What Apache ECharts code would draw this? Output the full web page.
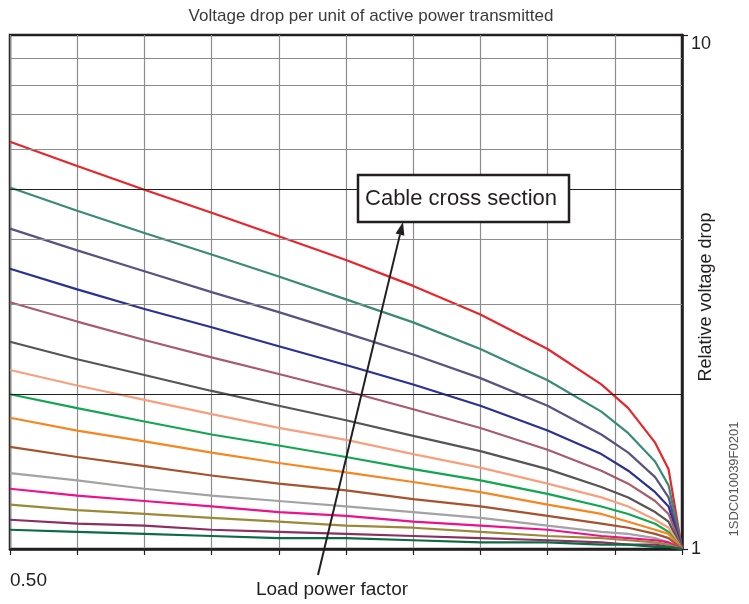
<!DOCTYPE html>
<html>
<head>
<meta charset="utf-8">
<script src="https://cdn.jsdelivr.net/npm/echarts@6/dist/echarts.min.js"></script>
<style>
html,body{margin:0;padding:0;background:#fff;}
#c{width:749px;height:604px;}
</style>
</head>
<body>
<div id="c"></div>
<script>
// Load power factor (x positions of the polyline vertices)
const powerFactor = [0.50,0.55,0.60,0.65,0.70,0.75,0.80,0.85,0.90,0.94,0.96,0.98,0.99,1.00];

// Relative voltage drop for each cable cross section curve (top to bottom)
const sRed      = [6.20,5.56,5.00,4.51,4.06,3.65,3.25,2.86,2.45,2.09,1.88,1.61,1.43,1];
const sTeal     = [5.05,4.55,4.12,3.74,3.39,3.06,2.76,2.45,2.13,1.85,1.68,1.48,1.33,1];
const sPurple   = [4.20,3.81,3.47,3.16,2.89,2.63,2.39,2.15,1.90,1.67,1.54,1.38,1.26,1];
const sBlue     = [3.51,3.20,2.93,2.70,2.48,2.28,2.09,1.90,1.70,1.53,1.42,1.29,1.21,1];
const sMauve    = [3.02,2.77,2.55,2.36,2.19,2.03,1.87,1.72,1.56,1.42,1.34,1.24,1.17,1];
const sDarkGray = [2.53,2.34,2.18,2.03,1.90,1.78,1.66,1.55,1.43,1.32,1.26,1.18,1.13,1];
const sSalmon   = [2.23,2.08,1.95,1.83,1.72,1.63,1.53,1.44,1.34,1.26,1.21,1.14,1.10,1];
const sGreen    = [2.00,1.88,1.77,1.67,1.59,1.51,1.43,1.36,1.28,1.21,1.17,1.12,1.08,1];
const sOrange   = [1.80,1.70,1.62,1.54,1.47,1.41,1.35,1.29,1.22,1.17,1.13,1.09,1.07,1];
const sBrown    = [1.58,1.51,1.45,1.39,1.34,1.30,1.25,1.21,1.16,1.12,1.10,1.07,1.05,1];
const sGray     = [1.405,1.36,1.31,1.27,1.24,1.21,1.18,1.15,1.11,1.08,1.07,1.05,1.03,1];
const sPink     = [1.31,1.27,1.24,1.21,1.18,1.16,1.13,1.11,1.09,1.06,1.05,1.04,1.03,1];
const sOlive    = [1.22,1.19,1.17,1.15,1.13,1.11,1.10,1.08,1.06,1.05,1.04,1.03,1.02,1];
const sPlum     = [1.14,1.12,1.11,1.09,1.08,1.07,1.06,1.05,1.04,1.03,1.02,1.02,1.01,1];
const sDkGreen  = [1.09,1.08,1.07,1.06,1.05,1.05,1.04,1.03,1.03,1.02,1.02,1.01,1.01,1];

const curves = [sRed,sTeal,sPurple,sBlue,sMauve,sDarkGray,sSalmon,sGreen,sOrange,sBrown,sGray,sPink,sOlive,sPlum,sDkGreen];
const curveColors = ['#e8252a','#3a8a78','#5b5282','#2b3192','#a85a6e','#555555','#f5a07e','#12a650','#f6861f','#a5532e','#a3a3a3','#ec118c','#9b8938','#8a2f60','#0b6b45'];

// Horizontal grid lines of the log axis
const gridMinor = [3,4,6,7,8,9];
const gridMajor = [2,5];

// Axis range / ticks
const xMin = 0.5, xMax = 1.0, xStep = 0.05;
const yMin = 1, yMax = 10;

const ink = '#231f20';
const FONT = 'Liberation Sans, Arial, Helvetica, sans-serif';

const series = [];
series.push({
  type:'line', data:[], silent:true, z:1,
  markLine:{
    silent:true, symbol:'none', animation:false,
    label:{show:false},
    data: gridMinor.map(v=>({yAxis:v, lineStyle:{color:'#8c8c8c',width:1.2,type:'solid'}}))
      .concat(gridMajor.map(v=>({yAxis:v, lineStyle:{color:ink,width:1.2,type:'solid'}})))
  }
});
curves.forEach((c,i)=>{
  series.push({
    type:'line', z:3,
    showSymbol:false, symbol:'none', animation:false,
    lineStyle:{color:curveColors[i], width:2.2},
    data: powerFactor.map((x,j)=>[x,c[j]])
  });
});

// arrow geometry (annotation)
const tip=[403,222], tail=[318,575];
const dx=tip[0]-tail[0], dy=tip[1]-tail[1], L=Math.hypot(dx,dy);
const ux=dx/L, uy=dy/L, hl=13, hw=4.5;
const bx=tip[0]-ux*hl, by=tip[1]-uy*hl;

const chart = echarts.init(document.getElementById('c'), null, {renderer:'canvas'});
chart.setOption({
  backgroundColor:'#fff',
  animation:false,
  title:{
    text:'Voltage drop per unit of active power transmitted',
    left:366, top:3, textAlign:'center',
    textStyle:{fontFamily:FONT,fontSize:17,fontWeight:'normal',color:'#3a3a3a'}
  },
  grid:{left:10,right:67,top:35,bottom:55,show:true,borderColor:ink,borderWidth:2.5,backgroundColor:'transparent'},
  xAxis:{
    type:'value', min:xMin, max:xMax, interval:xStep,
    axisLine:{show:true,lineStyle:{color:ink,width:2.5}},
    axisTick:{show:true,length:6,lineStyle:{color:ink,width:1.2}},
    splitLine:{show:true,lineStyle:{color:'#8c8c8c',width:1.2}},
    axisLabel:{show:true,align:'left',margin:22,fontFamily:FONT,fontSize:19,color:ink,
      showMinLabel:true,
      formatter:(v)=> Math.abs(v-0.5)<1e-9 ? '0.50' : ''}
  },
  yAxis:{
    type:'log', logBase:10, min:yMin, max:yMax, position:'right',
    axisLine:{show:true,lineStyle:{color:ink,width:2.5}},
    axisTick:{show:true,length:6,lineStyle:{color:ink,width:1.2}},
    splitLine:{show:false},
    axisLabel:{show:true,margin:9,fontFamily:FONT,fontSize:18,color:ink,verticalAlignMaxLabel:'top'}
  },
  series: series,
  graphic:[
    {type:'text', x:332, y:590, z:10, silent:true,
      style:{text:'Load power factor',fontFamily:FONT,fontSize:19,fill:ink,align:'center',verticalAlign:'middle'}},
    {type:'text', x:706, y:297, rotation:Math.PI/2, z:10, silent:true,
      style:{text:'Relative voltage drop',fontFamily:FONT,fontSize:18,fill:ink,align:'center',verticalAlign:'middle'}},
    {type:'text', x:734, y:479, rotation:Math.PI/2, z:10, silent:true,
      style:{text:'1SDC010039F0201',fontFamily:FONT,fontSize:13,fill:'#555',align:'center',verticalAlign:'middle'}},
    {type:'line', z:20, silent:true,
      shape:{x1:tail[0],y1:tail[1],x2:bx,y2:by}, style:{stroke:ink,lineWidth:2}},
    {type:'polygon', z:20, silent:true,
      shape:{points:[[tip[0],tip[1]],[bx-uy*hw,by+ux*hw],[bx+uy*hw,by-ux*hw]]}, style:{fill:ink}},
    {type:'rect', z:15, silent:true,
      shape:{x:358,y:175,width:211,height:47}, style:{fill:'#fff',stroke:ink,lineWidth:2.5}},
    {type:'text', x:461, y:199, z:16, silent:true,
      style:{text:'Cable cross section',fontFamily:FONT,fontSize:22,fill:ink,align:'center',verticalAlign:'middle'}}
  ]
});
</script>
</body>
</html>
